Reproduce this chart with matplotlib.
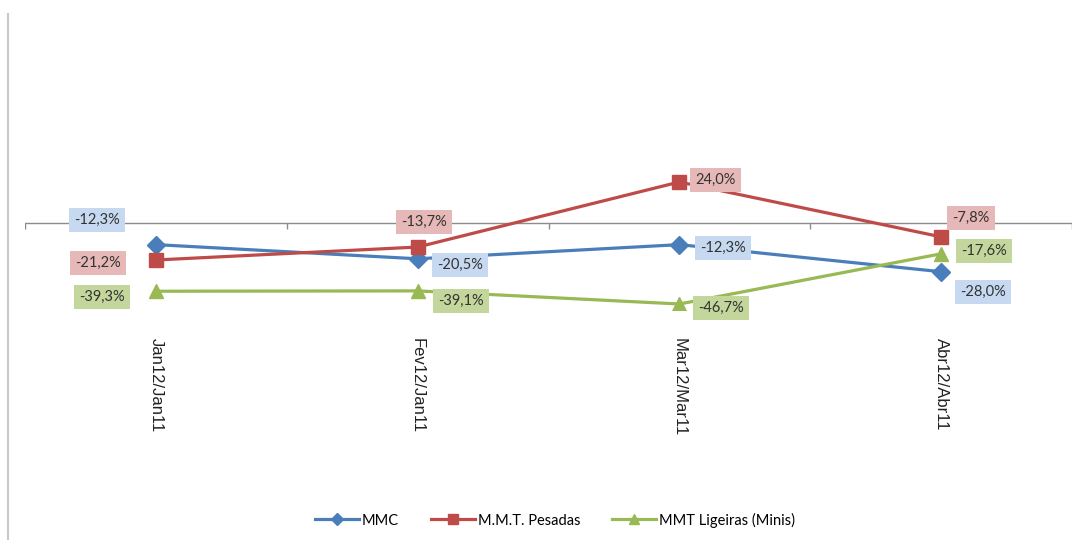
import matplotlib.pyplot as plt
from matplotlib.lines import Line2D

# data
categories = ["Jan12/Jan11", "Fev12/Jan11", "Mar12/Mar11", "Abr12/Abr11"]
mmc = [-12.3, -20.5, -12.3, -28.0]
pesadas = [-21.2, -13.7, 24.0, -7.8]
ligeiras = [-39.3, -39.1, -46.7, -17.6]
series_names = ["MMC", "M.M.T. Pesadas", "MMT Ligeiras (Minis)"]

# label offsets in pixels (dx, dy) for each point
off_mmc = [(-59, 25), (42, -6), (44, -3), (42, -20)]
off_pes = [(-58, -3), (6, 25), (36, 2), (30, 19)]
off_lig = [(-54, -6), (43, -10), (42, -4), (43, 3)]

plt.rcParams['font.family'] = ['Lato', 'DejaVu Sans']

fig = plt.figure(figsize=(10.89, 5.42), dpi=100)
ax = fig.add_axes([25/1089, 1-309.7/542, 1047/1089, 258.9/542])
x = list(range(len(categories)))

styles = [
    (mmc, off_mmc, "#4A7EBB", "D", 9, "#C6D9F1"),
    (pesadas, off_pes, "#BE4B48", "s", 10, "#E6B9B8"),
    (ligeiras, off_lig, "#98B954", "^", 10, "#C3D69B"),
]
for (vals, offs, col, mk, ms, bg), name in zip(styles, series_names):
    ax.plot(x, vals, color=col, lw=2.3, marker=mk, ms=ms, mfc=col,
            mec=col, label=name, zorder=3)
    for xi, v, (dx, dy) in zip(x, vals, offs):
        ax.annotate(("%.1f%%" % v).replace(".", ","), (xi, v),
                    xytext=(dx, dy), textcoords="offset pixels",
                    ha="center", va="center", fontsize=10.5, color="#333333",
                    bbox=dict(boxstyle="square,pad=0.35", fc=bg, ec="none"),
                    zorder=4)

ax.set_xlim(-0.5, len(categories) - 0.5)
ax.set_ylim(-50, 100)
for s in ax.spines.values():
    s.set_visible(False)
ax.set_yticks([])
ax.set_xticks([])
ax.axhline(0, color="#8C8C8C", lw=1, zorder=1)
bounds = [i - 0.5 for i in range(len(categories) + 1)]
ax.vlines(bounds, -3, 0, color="#8C8C8C", lw=1)

for xi, c in zip(x, categories):
    ax.text(xi, -0.11, c, transform=ax.get_xaxis_transform(), rotation=270,
            ha="center", va="top", fontsize=12, color="#222222",
            family="Liberation Sans")

fig.add_artist(Line2D([8/1089, 8/1089], [0.005, 0.975], color="#C8C8C8", lw=1.5))

fig.legend(loc="center", bbox_to_anchor=(555/1089, 1-520/542), ncol=3,
           frameon=False, fontsize=10.5, handlelength=3, columnspacing=2.2,
           handletextpad=0.2, markerscale=0.7)

fig.savefig("out.png", dpi=100)
